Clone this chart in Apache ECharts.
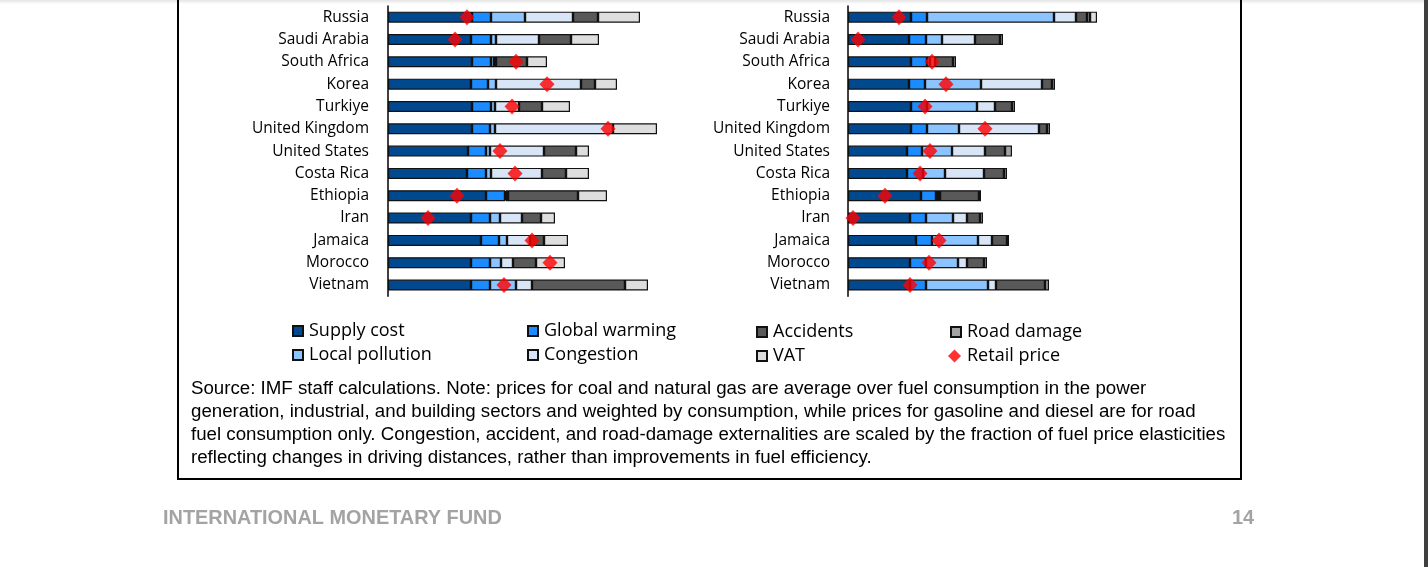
<!DOCTYPE html>
<html>
<head>
<meta charset="utf-8">
<script src="https://cdn.jsdelivr.net/npm/echarts@6/dist/echarts.min.js"></script>
<style>
  html, body { margin: 0; padding: 0; background: #ffffff; }
  #chart { width: 1428px; height: 567px; }
</style>
</head>
<body>
<div id="chart"></div>
<script>
// ---------- data ----------
const countries = ['Russia','Saudi Arabia','South Africa','Korea','Turkiye','United Kingdom','United States','Costa Rica','Ethiopia','Iran','Jamaica','Morocco','Vietnam'];

// left panel
const supplyL     = [0.84,0.83,0.84,0.83,0.84,0.84,0.80,0.79,0.98,0.83,0.93,0.83,0.83];
const warmingL    = [0.19,0.20,0.19,0.17,0.19,0.18,0.18,0.19,0.19,0.19,0.18,0.19,0.19];
const pollutionL  = [0.34,0.05,0.03,0.08,0.04,0.05,0.04,0.05,0.01,0.10,0.08,0.11,0.26];
const congestionL = [0.48,0.43,0.02,0.85,0.24,1.18,0.54,0.51,0.02,0.22,0.23,0.12,0.16];
const accidentsL  = [0.25,0.32,0.31,0.14,0.23,0.00,0.32,0.24,0.70,0.19,0.14,0.23,0.93];
const roadL       = [0,0,0,0,0,0,0,0,0,0,0,0,0];
const vatL        = [0.42,0.28,0.20,0.22,0.28,0.44,0.13,0.23,0.29,0.14,0.24,0.29,0.23];
const retailL     = [0.79,0.67,1.28,1.59,1.24,2.20,1.12,1.27,0.69,0.40,1.44,1.62,1.16];

// right panel
const supplyR     = [0.63,0.61,0.63,0.61,0.63,0.63,0.59,0.59,0.73,0.62,0.68,0.62,0.62];
const warmingR    = [0.16,0.17,0.16,0.16,0.16,0.16,0.15,0.16,0.15,0.16,0.16,0.16,0.16];
const pollutionR  = [1.27,0.16,0.03,0.56,0.50,0.32,0.30,0.22,0.02,0.27,0.46,0.32,0.62];
const congestionR = [0.22,0.33,0.05,0.61,0.18,0.80,0.33,0.39,0.02,0.14,0.14,0.09,0.08];
const accidentsR  = [0.11,0.25,0.18,0.10,0.17,0.08,0.20,0.20,0.39,0.13,0.15,0.17,0.49];
const roadR       = [0.03,0.03,0.03,0.03,0.03,0.03,0.07,0.03,0.02,0.03,0.02,0.03,0.04];
const vatR        = [0.07,0,0,0,0,0,0,0,0,0,0,0,0];
const retailR     = [0.51,0.10,0.84,0.98,0.77,1.37,0.82,0.72,0.37,0.05,0.91,0.81,0.62];

const sourceLines = [
  'Source: IMF staff calculations. Note: prices for coal and natural gas are average over fuel consumption in the power',
  'generation, industrial, and building sectors and weighted by consumption, while prices for gasoline and diesel are for road',
  'fuel consumption only. Congestion, accident, and road-damage externalities are scaled by the fraction of fuel price elasticities',
  'reflecting changes in driving distances, rather than improvements in fuel efficiency.'
];

// ---------- styling ----------
const components = [
  { name: 'Supply cost',     color: '#00498F', L: supplyL,     R: supplyR },
  { name: 'Global warming',  color: '#1A8CFF', L: warmingL,    R: warmingR },
  { name: 'Local pollution', color: '#8CC4FF', L: pollutionL,  R: pollutionR },
  { name: 'Congestion',      color: '#D7E5F6', L: congestionL, R: congestionR },
  { name: 'Accidents',       color: '#595959', L: accidentsL,  R: accidentsR },
  { name: 'Road damage',     color: '#A3A3A3', L: roadL,       R: roadR },
  { name: 'VAT',             color: '#DEDEDE', L: vatL,        R: vatR }
];

const labelFont = '"Open Sans", "Noto Sans", sans-serif';

function yAxisFor(gridIndex, margin) {
  return {
    type: 'category', gridIndex, data: countries, inverse: true,
    axisLine: { show: true, lineStyle: { color: '#000', width: 1.5 } },
    axisTick: { show: false },
    axisLabel: { margin, color: '#000', fontSize: 15.5, fontFamily: labelFont }
  };
}
function xAxisFor(gridIndex) {
  return { type: 'value', gridIndex, min: 0, max: 3, show: false };
}

const series = [];
['L', 'R'].forEach((side, idx) => {
  components.forEach(c => {
    series.push({
      name: c.name, type: 'bar', stack: 'stack' + side,
      xAxisIndex: idx, yAxisIndex: idx,
      barWidth: 11,
      itemStyle: { color: c.color, borderColor: '#111', borderWidth: 1.2 },
      emphasis: { disabled: true },
      data: c[side].map(v => (v === 0 ? null : v))
    });
  });
  const retail = side === 'L' ? retailL : retailR;
  series.push({
    name: 'Retail price', type: 'scatter',
    xAxisIndex: idx, yAxisIndex: idx,
    symbol: 'diamond', symbolSize: [15, 16], z: 5,
    itemStyle: { color: '#FF0000' },
    data: retail.map((v, i) => [v, countries[i]])
  });
});

function legendCol(left, top, names, icon, size) {
  const s = size || 10;
  return {
    orient: 'vertical', left, top, padding: 0, itemGap: 6, itemWidth: s, itemHeight: s,
    data: names.map(n => ({ name: n, icon: icon || 'rect' })),
    textStyle: { fontSize: 18, color: '#000', fontFamily: labelFont, lineHeight: 18, padding: [0, 0, 0, 1] },
    selectedMode: false
  };
}

const graphic = [
  { type: 'rect', shape: { x: 0, y: 0, width: 1424, height: 4 },
    style: { fill: new echarts.graphic.LinearGradient(0, 0, 0, 1, [
      { offset: 0, color: '#e4e4e4' }, { offset: 1, color: '#ffffff' }]) }, silent: true, z: -1 },
  { type: 'rect', shape: { x: 178, y: -20, width: 1063, height: 499 },
    style: { fill: 'none', stroke: '#000', lineWidth: 2 }, silent: true },
  { type: 'rect', shape: { x: 1424, y: 0, width: 4, height: 567 },
    style: { fill: '#3f3f3f' }, silent: true },
  { type: 'text', left: 163, top: 509,
    style: { text: 'INTERNATIONAL MONETARY FUND', fill: '#A3A3A3',
      font: 'bold 19.9px "Liberation Sans", Arial, sans-serif' } },
  { type: 'text', left: 1232, top: 509,
    style: { text: '14', fill: '#A3A3A3',
      font: 'bold 19.9px "Liberation Sans", Arial, sans-serif' } }
];
sourceLines.forEach((line, i) => {
  graphic.push({
    type: 'text', x: 191, y: 389 + i * 23,
    style: { text: line, fill: '#000', font: '18.7px "Liberation Sans", Arial, sans-serif',
      textVerticalAlign: 'middle' }
  });
});

const option = {
  animation: false,
  backgroundColor: '#ffffff',
  grid: [
    { left: 388, top: 6, width: 300, height: 290.2 },
    { left: 848, top: 6, width: 300, height: 290.2 }
  ],
  xAxis: [xAxisFor(0), xAxisFor(1)],
  yAxis: [yAxisFor(0, 19), yAxisFor(1, 18)],
  legend: [
    legendCol(292, 322, ['Supply cost', 'Local pollution']),
    legendCol(527, 322, ['Global warming', 'Congestion']),
    legendCol(756, 323, ['Accidents', 'VAT']),
    legendCol(950, 323, ['Road damage']),
    legendCol(948, 347, ['Retail price'], 'diamond', 13)
  ],
  series,
  graphic
};

const chart = echarts.init(document.getElementById('chart'), null, { renderer: 'canvas' });
chart.setOption(option);
</script>
</body>
</html>
